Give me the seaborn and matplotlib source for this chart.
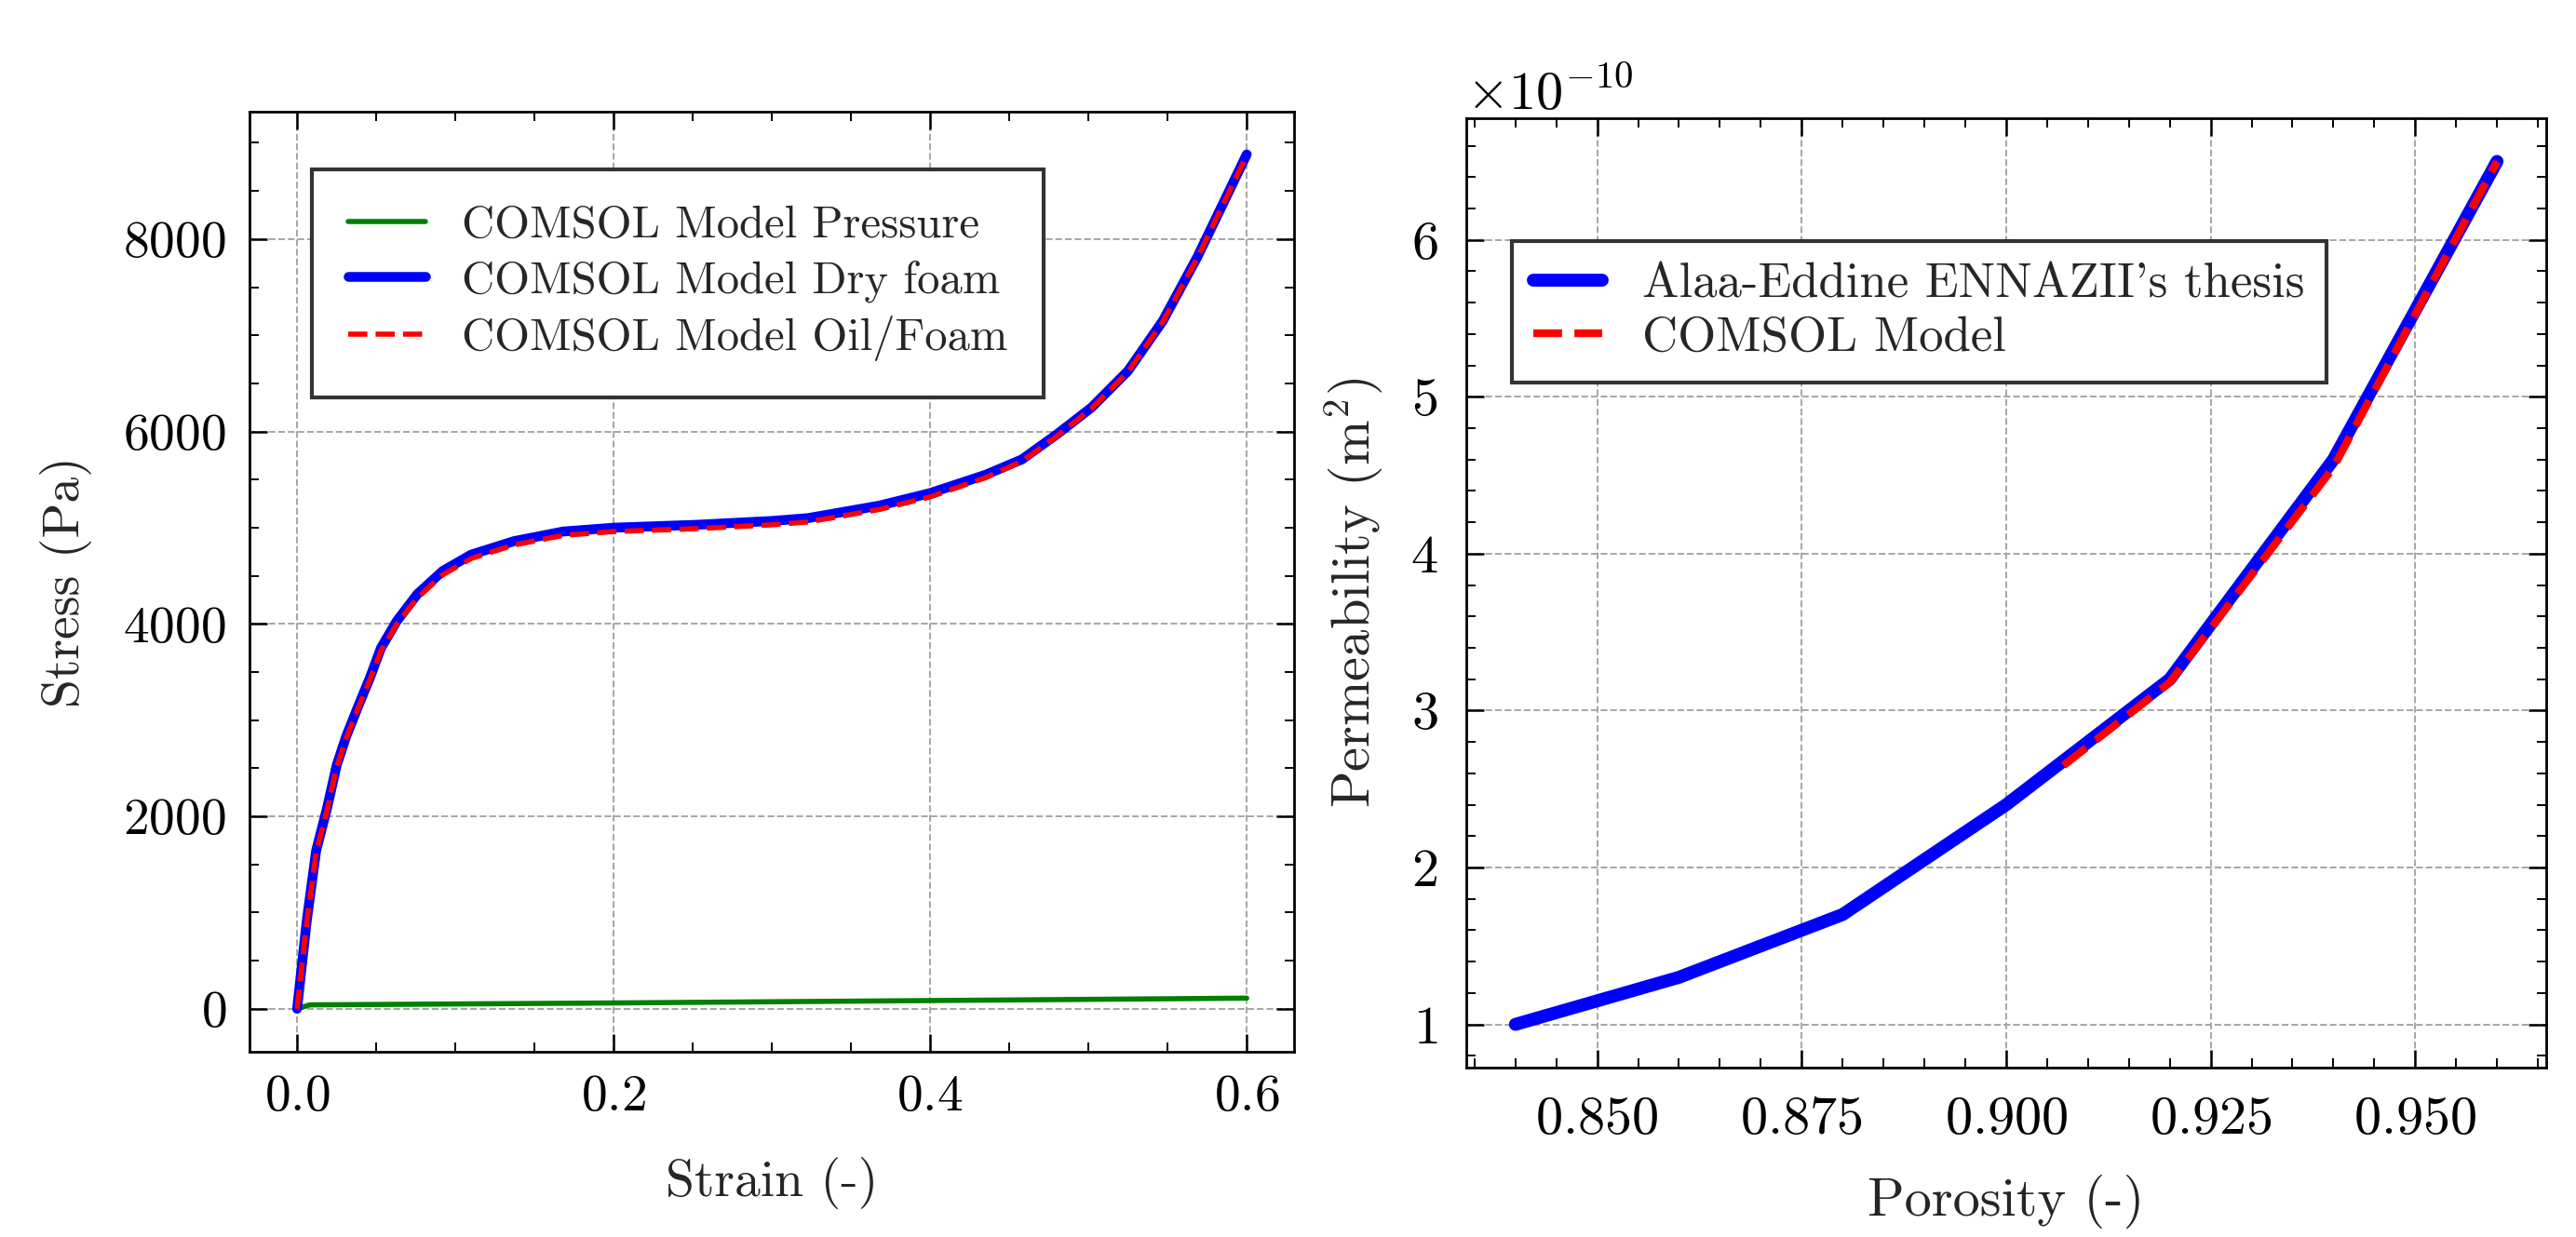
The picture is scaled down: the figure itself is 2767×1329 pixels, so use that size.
import matplotlib
matplotlib.use("Agg")
import matplotlib.pyplot as plt
import seaborn as sns
from matplotlib.ticker import MultipleLocator

# left panel: stress-strain curves
strain_dry = [0.0, 0.006, 0.012, 0.019, 0.025, 0.031, 0.038, 0.046, 0.053, 0.063,
              0.076, 0.092, 0.11, 0.137, 0.168, 0.2, 0.252, 0.3, 0.323, 0.368,
              0.4, 0.435, 0.458, 0.48, 0.502, 0.525, 0.547, 0.569, 0.6]
stress_dry = [0, 900, 1640, 2090, 2530, 2830, 3120, 3440, 3750, 4030,
              4310, 4550, 4720, 4860, 4960, 5000, 5030, 5070, 5100, 5230,
              5360, 5550, 5710, 5970, 6250, 6630, 7150, 7820, 8880]
strain_oil = [0.0, 0.006, 0.012, 0.019, 0.025, 0.031, 0.038, 0.046, 0.053, 0.063,
              0.076, 0.092, 0.11, 0.137, 0.168, 0.2, 0.252, 0.3, 0.323, 0.368,
              0.4, 0.435, 0.458, 0.48, 0.502, 0.525, 0.547, 0.569, 0.6]
stress_oil = [0, 880, 1620, 2070, 2510, 2810, 3100, 3420, 3720, 4000,
              4270, 4510, 4680, 4820, 4920, 4960, 4990, 5030, 5060, 5190,
              5320, 5520, 5690, 5950, 6240, 6620, 7140, 7810, 8870]
strain_pressure = [0.0, 0.008, 0.2, 0.4, 0.6]
stress_pressure = [0, 40, 60, 85, 110]

# right panel: permeability vs porosity
porosity_thesis = [0.84, 0.86, 0.88, 0.90, 0.92, 0.94, 0.96]
perm_thesis = [1.0e-10, 1.3e-10, 1.7e-10, 2.4e-10, 3.2e-10, 4.6e-10, 6.5e-10]
porosity_comsol = [0.907, 0.92, 0.94, 0.96]
perm_comsol = [2.65e-10, 3.18e-10, 4.55e-10, 6.5e-10]

sns.set_style("ticks")
plt.rcParams.update({
    "font.family": "serif",
    "font.serif": ["cmr10", "DejaVu Serif"],
    "mathtext.fontset": "cm",
    "axes.formatter.use_mathtext": True,
    "axes.unicode_minus": True,
    "axes.edgecolor": "black",
    "axes.linewidth": 1.0,
    "xtick.direction": "in",
    "ytick.direction": "in",
    "xtick.top": True,
    "ytick.right": True,
    "xtick.minor.visible": True,
    "ytick.minor.visible": True,
    "xtick.major.size": 7,
    "ytick.major.size": 7,
    "xtick.minor.size": 3.5,
    "ytick.minor.size": 3.5,
    "xtick.major.width": 0.9,
    "ytick.major.width": 0.9,
    "xtick.minor.width": 0.7,
    "ytick.minor.width": 0.7,
    "xtick.color": "black",
    "ytick.color": "black",
})

fig = plt.figure(figsize=(13.835, 6.645), dpi=200)
ax1 = fig.add_axes([0.0969, 0.150, 0.4055, 0.7597])
ax2 = fig.add_axes([0.5692, 0.137, 0.4192, 0.7674])

for ax in (ax1, ax2):
    ax.grid(True, which="major", color="0.65", linestyle="--", linewidth=0.7)
    ax.set_axisbelow(True)

sns.lineplot(x=strain_pressure, y=stress_pressure, ax=ax1, color="green",
             lw=2.0, label="COMSOL Model Pressure", sort=False)
sns.lineplot(x=strain_dry, y=stress_dry, ax=ax1, color="blue",
             lw=3.8, label="COMSOL Model Dry foam", sort=False)
sns.lineplot(x=strain_oil, y=stress_oil, ax=ax1, color="red",
             lw=2.0, linestyle="--", label="COMSOL Model Oil/Foam", sort=False)

ax1.xaxis.set_major_locator(MultipleLocator(0.2))
ax1.xaxis.set_minor_locator(MultipleLocator(0.05))
ax1.yaxis.set_major_locator(MultipleLocator(2000))
ax1.yaxis.set_minor_locator(MultipleLocator(500))
ax1.tick_params(axis="both", which="major", labelsize=20, pad=9)
ax1.set_xlabel("Strain (-)", fontsize=20, labelpad=14)
ax1.set_ylabel("Stress (Pa)", fontsize=20, labelpad=12)
ax1.legend(loc="upper left", bbox_to_anchor=(0.06, 0.939), borderaxespad=0,
           fontsize=17.5, frameon=True, fancybox=False, framealpha=1,
           edgecolor="0.2", handlelength=1.7, labelspacing=0.3, borderpad=0.8)
ax1.get_legend().get_frame().set_linewidth(1.5)

sns.lineplot(x=porosity_thesis, y=perm_thesis, ax=ax2, color="blue",
             lw=5.0, label="Alaa-Eddine ENNAZII's thesis", sort=False)
sns.lineplot(x=porosity_comsol, y=perm_comsol, ax=ax2, color="red",
             lw=3.0, linestyle="--", label="COMSOL Model", sort=False)

ax2.xaxis.set_major_locator(MultipleLocator(0.025))
ax2.xaxis.set_minor_locator(MultipleLocator(0.005))
ax2.yaxis.set_major_locator(MultipleLocator(1e-10))
ax2.yaxis.set_minor_locator(MultipleLocator(0.2e-10))
ax2.tick_params(axis="both", which="major", labelsize=21, pad=11)
ax2.yaxis.get_offset_text().set_fontsize(21)
ax2.set_xlabel("Porosity (-)", fontsize=21, labelpad=12)
ax2.set_ylabel("Permeability (m$^2$)", fontsize=21, labelpad=10)
ax2.legend(loc="upper left", bbox_to_anchor=(0.042, 0.871), borderaxespad=0,
           fontsize=19, frameon=True, fancybox=False, framealpha=1,
           edgecolor="0.2", handlelength=1.4, labelspacing=0.2, borderpad=0.45)
ax2.get_legend().get_frame().set_linewidth(1.5)

fig.savefig("out.png", dpi=200)
